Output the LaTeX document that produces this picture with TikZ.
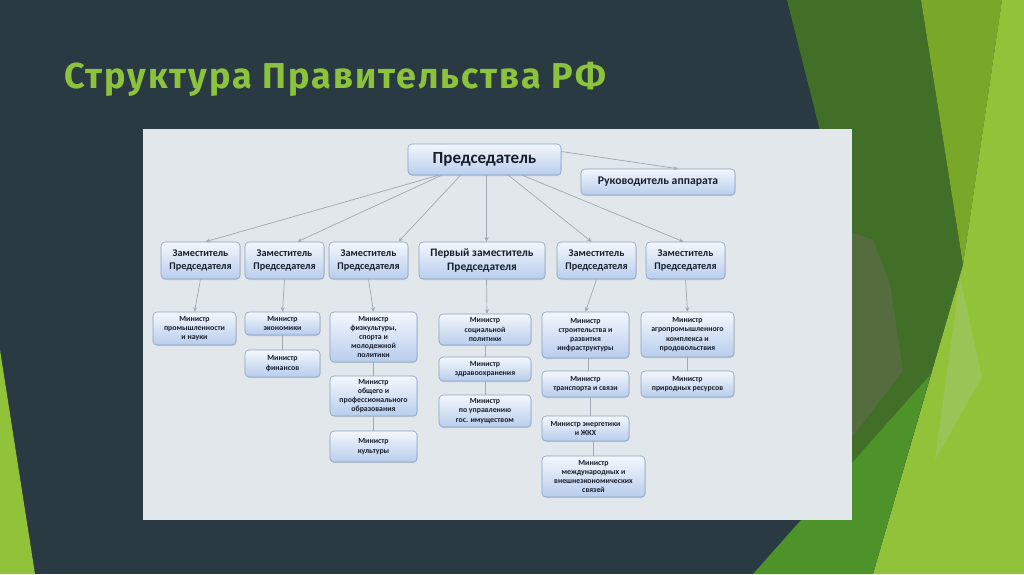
\documentclass[tikz,border=0pt]{standalone}
\usepackage{fontspec}
\setmainfont{Carlito}
\newfontfamily\titlefont[LetterSpace=5.5]{Fira Sans}
\usetikzlibrary{arrows.meta,shadows}
\definecolor{slate}{RGB}{42,58,67}
\definecolor{titlegreen}{RGB}{141,194,60}
\definecolor{gdark}{RGB}{65,111,39}
\definecolor{ggray}{RGB}{84,108,62}
\definecolor{gmid}{RGB}{121,168,41}
\definecolor{glight}{RGB}{146,194,58}
\definecolor{gmed}{RGB}{78,146,42}
\definecolor{gpale}{RGB}{155,196,86}
\definecolor{sheet}{RGB}{225,231,235}
\definecolor{boxline}{RGB}{140,162,192}
\definecolor{boxtop}{RGB}{244,247,252}
\definecolor{boxbot}{RGB}{184,205,237}
\definecolor{boxtext}{RGB}{24,30,44}
\definecolor{wire}{RGB}{160,168,177}

\begin{document}
\begin{tikzpicture}[x=1pt, y=-1pt,
    box/.style={draw=boxline, line width=0.6pt, rounded corners=4pt, top color=boxtop, bottom color=boxbot,
        text=boxtext, align=center, inner sep=1pt,
        drop shadow={shadow xshift=0.5pt, shadow yshift=-1pt, opacity=0.25}},
    deputy/.style={box, minimum width=79, minimum height=37, font=\bfseries\fontsize{10.2}{13}\selectfont},
    minister/.style={box, font=\bfseries\fontsize{7.8}{9.2}\selectfont},
    link/.style={draw=wire, line width=0.7pt},
    pointer/.style={link, -{Stealth[length=4.5pt, width=4pt]}}]
    % slide background
    \fill[slate] (0,0) rectangle (1024,574);
    \useasboundingbox (0,0) rectangle (1024,574);
    \fill[gdark] (787,0) -- (921,0) -- (963,265) -- (931,374) -- (850,470) -- (845,230) -- cycle;
    \fill[ggray] (845,230) -- (873,240) -- (890,284) -- (903,371) -- (850,440) -- cycle;
    \fill[gmid] (921,0) -- (1002,0) -- (963,265) -- cycle;
    \fill[glight] (1002,0) -- (1024,0) -- (1024,574) -- (873,574) -- (963,265) -- cycle;
    \fill[gmed] (753,574) -- (873,574) -- (931,374) -- cycle;
    \fill[gpale] (960,278) -- (982,377) -- (935,460) -- cycle;
    \fill[glight] (0,350) -- (35,574) -- (0,574) -- cycle;
    \node[anchor=base west, inner sep=0, text=titlegreen, font=\titlefont\bfseries\fontsize{36}{40}\selectfont]
        (title) at (64,88) {Структура Правительства РФ};
    \fill[sheet] (143,129) rectangle (852,520);

    % top level
    \node[box, minimum width=153, minimum height=31, font=\bfseries\fontsize{17}{20}\selectfont]
        (chair) at (484.5,159.5) {Председатель};
    \node[box, minimum width=154, minimum height=26, font=\bfseries\fontsize{11.7}{14}\selectfont]
        (staff) at (658,182) {Руководитель аппарата};

    % deputies
    \node[deputy] (dep1) at (200.5,260.5) {Заместитель\\Председателя};
    \node[deputy] (dep2) at (284.5,260.5) {Заместитель\\Председателя};
    \node[deputy] (dep3) at (368.5,260.5) {Заместитель\\Председателя};
    \node[deputy, minimum width=126, font=\bfseries\fontsize{11.4}{14}\selectfont]
        (first) at (482,260.5) {Первый заместитель\\Председателя};
    \node[deputy] (dep5) at (596.5,260.5) {Заместитель\\Председателя};
    \node[deputy] (dep6) at (685.5,260.5) {Заместитель\\Председателя};

    % ministers
    \node[minister, minimum width=83, minimum height=33] (m1) at (194.5,328.5) {Министр\\промышленности\\и науки};
    \node[minister, minimum width=75, minimum height=23] (m2) at (282.5,323.5) {Министр\\экономики};
    \node[minister, minimum width=75, minimum height=27] (m3) at (282.5,363.5) {Министр\\финансов};
    \node[minister, minimum width=87, minimum height=50] (m4) at (373.5,337) {Министр\\физкультуры,\\спорта и\\молодежной\\политики};
    \node[minister, minimum width=87, minimum height=40] (m5) at (373.5,396) {Министр\\общего и\\профессионального\\образования};
    \node[minister, minimum width=87, minimum height=31] (m6) at (373.5,446.5) {Министр\\культуры};
    \node[minister, minimum width=92, minimum height=31] (m7) at (485,329.5) {Министр\\социальной\\политики};
    \node[minister, minimum width=92, minimum height=24] (m8) at (485,369) {Министр\\здравоохранения};
    \node[minister, minimum width=92, minimum height=32] (m9) at (485,411) {Министр\\по управлению\\гос. имуществом};
    \node[minister, minimum width=87, minimum height=46] (m10) at (585.5,335) {Министр\\строительства и\\развития\\инфраструктуры};
    \node[minister, minimum width=87, minimum height=26] (m11) at (585.5,384) {Министр\\транспорта и связи};
    \node[minister, minimum width=87, minimum height=25] (m12) at (585.5,428.5) {Министр энергетики\\и ЖКХ};
    \node[minister, minimum width=103, minimum height=41] (m13) at (593.5,476.5) {Министр\\международных и\\внешнеэкономических\\связей};
    \node[minister, minimum width=93, minimum height=45] (m14) at (687.5,334.5) {Министр\\агропромышленного\\комплекса и\\продовольствия};
    \node[minister, minimum width=93, minimum height=26] (m15) at (687.5,384) {Министр\\природных ресурсов};

    % arrows from the chairman
    \draw[pointer] ([xshift=-46pt]chair.south) -- ([xshift=5pt]dep1.north);
    \draw[pointer] ([xshift=-43pt]chair.south) -- ([xshift=13pt]dep2.north);
    \draw[pointer] ([xshift=-24pt]chair.south) -- ([xshift=30pt]dep3.north);
    \draw[pointer] ([xshift=2pt]chair.south) -- ([xshift=4.5pt]first.north);
    \draw[pointer] ([xshift=24pt]chair.south) -- ([xshift=-5pt]dep5.north);
    \draw[pointer] ([xshift=38pt]chair.south) -- ([xshift=-2pt]dep6.north);
    \draw[pointer] ([yshift=8pt]chair.east) -- ([xshift=20pt]staff.north);

    % arrows to the ministers
    \draw[pointer] (dep1.south) -- (m1.north);
    \draw[pointer] (dep2.south) -- (m2.north);
    \draw[pointer] (dep3.south) -- (m4.north);
    \draw[pointer] ([xshift=4.5pt]first.south) -- ([xshift=2pt]m7.north);
    \draw[pointer] (dep5.south) -- (m10.north);
    \draw[pointer] (dep6.south) -- (m14.north);

    % plain links
    \draw[link] (m2) -- (m3);
    \draw[link] (m4) -- (m5);
    \draw[link] (m5) -- (m6);
    \draw[link] (m7) -- (m8);
    \draw[link] (m8) -- (m9);
    \draw[link] ([xshift=3pt]m10.south) -- ([xshift=3pt]m11.north);
    \draw[link] ([xshift=5pt]m11.south) -- ([xshift=5pt]m12.north);
    \draw[link] ([xshift=8pt]m12.south) -- (m13.north);
    \draw[link] (m14) -- (m15);
\end{tikzpicture}
\end{document}
